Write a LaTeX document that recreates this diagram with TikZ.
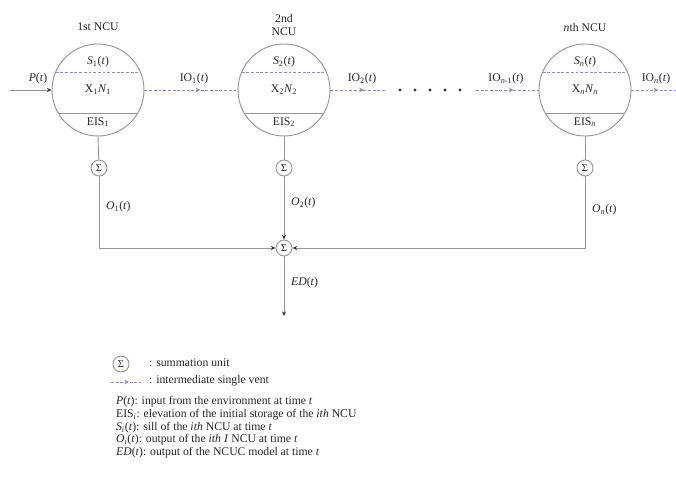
\documentclass[tikz,border=0pt]{standalone}
\usepackage{fontspec}
\setmainfont{Liberation Serif}
\usepackage{xcolor}
\usetikzlibrary{positioning,arrows.meta,calc,decorations.markings}

\definecolor{linegray}{RGB}{150,150,150}
\definecolor{ventblue}{RGB}{140,140,200}
\newcommand{\tv}{(\textit{t})}
\newcommand{\lo}[1]{\textsubscript{#1}}

\begin{document}
\begin{tikzpicture}[x=0.03cm, y=-0.03cm,
    every node/.style={font=\fontsize{10}{11}\selectfont, text=black!85},
    ncu/.style={circle, draw=linegray, thick, minimum size=2.76cm, inner sep=0pt},
    sumunit/.style={circle, draw=linegray, thick, minimum size=0.48cm, inner sep=0pt, font=\fontsize{9}{9}\selectfont},
    wire/.style={draw=linegray, thick},
    vent/.style={draw=ventblue, thick, dash pattern=on 2.5pt off 1.5pt,
        decoration={markings, mark=at position 0.6 with {\arrow[solid]{Stealth[length=4pt, width=4pt]}}}, postaction={decorate}},
    tip/.style={-{Stealth[length=4pt, width=3.5pt, black!80]}, draw=linegray, thick},
    lbl/.style={anchor=west},
]
\useasboundingbox (0,0) rectangle (676,477);

% three NCU circles
\node[ncu] (c1) at (98,90) {};
\node[ncu] (c2) at (284,90) {};
\node[ncu] (cn) at (585,90) {};

\node (t1) at (98,27) {1st NCU};
\node[align=center] (t2) at (284,25) {2nd\\NCU};
\node (tn) at (585,27) {\textit{n}th NCU};

% chords inside each unit
\foreach \c in {c1,c2,cn}{
  \draw[draw=ventblue, thick, dash pattern=on 2.5pt off 1.5pt] ($(\c)+(-42.3,-18)$) -- ($(\c)+(42.3,-18)$);
  \draw[wire] ($(\c)+(-39.8,23)$) -- ($(\c)+(39.8,23)$);
}

\node at ($(c1)+(0,-28)$) {\textit{S}\lo{1}\tv};
\node at ($(c1)+(0,0)$) {X\lo{1}\textit{N}\lo{1}};
\node at ($(c1)+(0,32)$) {EIS\lo{1}};

\node at ($(c2)+(0,-28)$) {\textit{S}\lo{2}\tv};
\node at ($(c2)+(0,0)$) {X\lo{2}\textit{N}\lo{2}};
\node at ($(c2)+(0,32)$) {EIS\lo{2}};

\node at ($(cn)+(0,-28)$) {\textit{S}\lo{\textit{n}}\tv};
\node at ($(cn)+(0,0)$) {X\lo{\textit{n}}\textit{N}\lo{\textit{n}}};
\node at ($(cn)+(0,32)$) {EIS\lo{\textit{n}}};

% input and vents
\coordinate (pin) at (10,90);
\draw[tip] (pin) -- (c1.west);
\node (plbl) at (38,79) {\textit{P}\tv};

\draw[vent] (c1.east) -- (c2.west);
\node (io1) at (194,79) {IO\lo{1}\tv};

\coordinate (d1) at (386,90);
\draw[vent] (c2.east) -- (d1);
\node (io2) at (362,79) {IO\lo{2}\tv};

\foreach \x in {400,415,430,445,460}
  \fill[black!80] (\x,90) circle (1.3pt);

\coordinate (d2) at (476,90);
\draw[vent] (d2) -- (cn.west);
\node (ion1) at (506,79) {IO\lo{\textit{n}-1}\tv};

\coordinate (dout) at (676,90);
\draw[vent] (cn.east) -- (dout);
\node (ion) at (656,79) {IO\lo{\textit{n}}\tv};

% summation units
\node[sumunit] (s1) at (99,168) {Σ};
\node[sumunit] (s2) at (284,168) {Σ};
\node[sumunit] (sn) at (585,168) {Σ};
\node[sumunit] (sm) at (284,248) {Σ};

\draw[wire] (c1.south) -- (s1);
\draw[wire] (c2.south) -- (s2);
\draw[wire] (cn.south) -- (sn);

\draw[tip] (s1) |- (sm);
\draw[tip] (s2) -- (sm);
\draw[tip] (sn) |- (sm);

\coordinate (edout) at (284,316);
\draw[tip] (sm) -- (edout);

\node[lbl] (o1) at (102,207) {\textit{O}\lo{1}\tv};
\node[lbl] (o2) at (287,203) {\textit{O}\lo{2}\tv};
\node[lbl] (on) at (588,210) {\textit{O}\lo{\textit{n}}\tv};
\node[lbl] (ed) at (287,283) {\textit{ED}\tv};

% legend
\node[sumunit] (ls) at (121,364) {Σ};
\node[lbl] (lst) at (145,363) {: summation unit};
\coordinate (lv1) at (111,382);
\coordinate (lv2) at (141,382);
\draw[vent] (lv1) -- (lv2);
\node[lbl] (lvt) at (145,381) {: intermediate single vent};

\node[lbl] (k1) at (112,402) {\textit{P}\tv: input from the environment at time \textit{t}};
\node[lbl] (k2) at (112,415) {EIS\lo{\textit{i}}: elevation of the initial storage of the \textit{ith} NCU};
\node[lbl] (k3) at (112,428) {\textit{S}\lo{\textit{i}}\tv: sill of the \textit{ith} NCU at time \textit{t}};
\node[lbl] (k4) at (112,440) {\textit{O}\lo{\textit{i}}\tv: output of the \textit{ith I} NCU at time \textit{t}};
\node[lbl] (k5) at (112,453) {\textit{ED}\tv: output of the NCUC model at time \textit{t}};
\end{tikzpicture}
\end{document}
